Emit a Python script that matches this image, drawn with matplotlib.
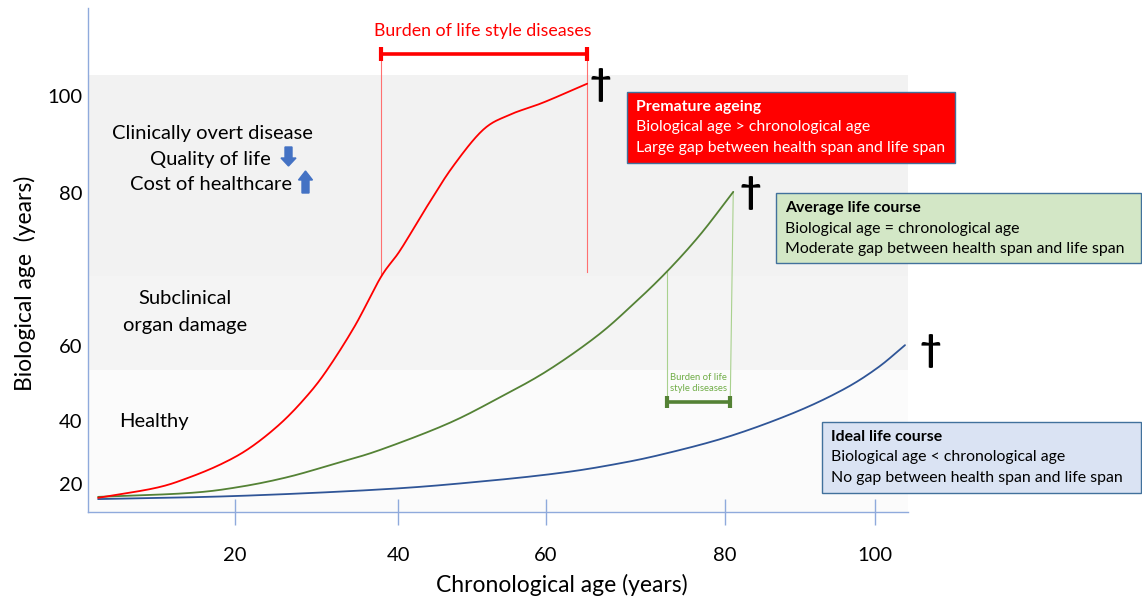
import numpy as np
import matplotlib
matplotlib.use("Agg")
import matplotlib.pyplot as plt
from matplotlib.patches import Rectangle, FancyArrow
from matplotlib.transforms import Affine2D

plt.rcParams['font.family'] = ['Lato', 'DejaVu Sans']

# axis labels as drawn (the schematic axes are not evenly spaced)
x_ticks = [20, 40, 60, 80, 100]
x_tick_labels = ['20', '40', '60', '80', '100']
y_ticks = [20, 40, 60, 80, 100]
y_tick_labels = ['20', '40', '60', '80', '100']

# curves: chronological age -> biological age
red_age = [3.2, 10.2, 14.2, 18.3, 21.8, 25.5, 28.6, 31.2, 34.7, 37.9, 40.3, 43.9, 47.4, 51.5, 55.1, 59.6, 64.6]
red_bio = [15.6, 18.7, 21.9, 26.3, 31.4, 39.0, 46.1, 53.3, 62.6, 69.0, 72.5, 78.2, 85.4, 93.0, 96.1, 98.6, 102.5]

green_age = [3.2, 14.2, 20.4, 26.5, 32.6, 37.8, 46.6, 53.4, 60.1, 65.7, 69.7, 73.5, 77.2, 81.1]
green_bio = [15.9, 17.1, 19.0, 22.2, 26.7, 30.8, 39.0, 45.9, 53.3, 61.3, 65.4, 69.7, 74.5, 80.2]

blue_age = [3.2, 20.4, 38.8, 52.2, 61.6, 67.2, 72.7, 80.3, 89.1, 95.7, 100.3, 104.0]
blue_bio = [15.2, 16.2, 18.4, 21.0, 23.5, 26.0, 29.2, 34.9, 42.1, 48.3, 54.1, 60.1]

# zone limits on the biological age axis
zone_names = ['Healthy', 'Subclinical', 'organ damage', 'Clinically overt disease']
zone_low = [11.1, 53.6, 69.2]
zone_high = [53.6, 69.2, 104.3]
zone_colors = ['#fbfbfb', '#f4f4f4', '#f2f2f2']

# burden of life style diseases (red: premature, green: average)
red_burden = (37.9, 64.6)
green_burden = (73.5, 80.7)

# piecewise scale anchors (value -> position) so the ticks sit where drawn
x_anchor_v = [-20, 0, 20, 40, 60, 80, 100, 120, 160]
x_anchor_p = [-91, 72, 235, 398, 546, 725, 875, 1025, 1325]
y_anchor_v = [-40, 0, 20, 40, 60, 80, 100, 120, 160]
y_anchor_p = [-673, -547, -484, -421, -346, -193, -96, 1, 195]


def xf(v):
    return np.interp(v, x_anchor_v, x_anchor_p)


def xi(p):
    return np.interp(p, x_anchor_p, x_anchor_v)


def yf(v):
    return np.interp(v, y_anchor_v, y_anchor_p)


def yi(p):
    return np.interp(p, y_anchor_p, y_anchor_v)


def smooth(xs, ys, n=16):
    # Catmull-Rom through the read points, done in screen space
    P = np.column_stack([xf(np.array(xs)), yf(np.array(ys))])
    P = np.vstack([2 * P[0] - P[1], P, 2 * P[-1] - P[-2]])
    out = []
    for i in range(1, len(P) - 2):
        p0, p1, p2, p3 = P[i - 1], P[i], P[i + 1], P[i + 2]
        for t in np.linspace(0, 1, n, endpoint=False):
            t2, t3 = t * t, t * t * t
            pt = 0.5 * ((2 * p1) + (-p0 + p2) * t + (2 * p0 - 5 * p1 + 4 * p2 - p3) * t2
                        + (-p0 + 3 * p1 - 3 * p2 + p3) * t3)
            out.append(pt)
    out.append(P[-2])
    out = np.array(out)
    return xi(out[:, 0]), yi(out[:, 1])


W, H = 1142, 601
fig = plt.figure(figsize=(W / 100, H / 100), dpi=100)
ax = fig.add_axes([88 / W, 1 - 512 / H, 820 / W, 504 / H])
ax.set_xscale('function', functions=(xf, xi))
ax.set_yscale('function', functions=(yf, yi))
ax.set_xlim(1.96, 104.4)
ax.set_ylim(11.1, 118.1)

# pixel transform for the free annotations
px = Affine2D().scale(1 / W, -1 / H).translate(0, 1) + fig.transFigure

axis_blue = '#8faadc'
for s in ['top', 'right']:
    ax.spines[s].set_visible(False)
for s in ['left', 'bottom']:
    ax.spines[s].set_color(axis_blue)
    ax.spines[s].set_linewidth(1.0)

ax.set_xticks(x_ticks, x_tick_labels)
ax.set_yticks(y_ticks, y_tick_labels)
ax.minorticks_off()
ax.tick_params(axis='x', direction='inout', length=19, width=1, color=axis_blue,
               pad=16, labelsize=14.5)
ax.tick_params(axis='y', length=0, pad=4, labelsize=14.5)

ax.set_xlabel('Chronological age (years)', fontsize=16.5)
ax.xaxis.set_label_coords((562 - 88) / 820, (512 - 574) / 504)
ax.set_ylabel('Biological age  (years)', fontsize=16.5)
ax.yaxis.set_label_coords((36 - 88) / 820, (512 - 283) / 504)

# zones
for lo, hi, c in zip(zone_low, zone_high, zone_colors):
    ax.axhspan(lo, hi, color=c, zorder=0, lw=0)

# curves
for xs, ys, col in [(blue_age, blue_bio, '#2f5597'),
                    (green_age, green_bio, '#548235'),
                    (red_age, red_bio, '#ff0000')]:
    sx, sy = smooth(xs, ys)
    ax.plot(sx, sy, color=col, lw=1.3, zorder=3, solid_capstyle='round')

# red burden bar
bar_y = 108.7
ax.plot([red_burden[0], red_burden[0]], [bar_y, 69.2], color='#ff7070', lw=0.8, clip_on=False)
ax.plot([red_burden[1], red_burden[1]], [bar_y, 69.7], color='#ff7070', lw=0.8, clip_on=False)
ax.plot(red_burden, [bar_y, bar_y], color='#ff0000', lw=2.6, clip_on=False, zorder=4)
ax.plot(red_burden, [bar_y, bar_y], ls='none', marker='|', ms=10, mew=3, color='#ff0000',
        clip_on=False, zorder=4)
ax.text(483, 31, 'Burden of life style diseases', transform=px, color='#ff0000',
        fontsize=12.8, ha='center', va='center')

# green burden bar
gbar_y = 45.1
ax.plot([green_burden[0], green_burden[0]], [gbar_y, green_bio[11]], color='#a9d18e', lw=0.8)
ax.plot([green_burden[1], green_age[-1]], [gbar_y, green_bio[-1]], color='#a9d18e', lw=0.8)
ax.plot(green_burden, [gbar_y, gbar_y], color='#548235', lw=2.6, zorder=4)
ax.plot(green_burden, [gbar_y, gbar_y], ls='none', marker='|', ms=9, mew=3, color='#548235', zorder=4)
ax.text(698, 383, 'Burden of life\nstyle diseases', transform=px, color='#70ad47',
        fontsize=6.8, ha='center', va='center', linespacing=1.3)

# death crosses
for xs, ys, dx, dy in [(red_age, red_bio, 13, -1), (green_age, green_bio, 17, -1),
                       (blue_age, blue_bio, 25, -6)]:
    ax.annotate('\u2020', (xs[-1], ys[-1]), xytext=(dx * 0.72, dy * 0.72),
                textcoords='offset points', fontsize=27, fontweight='bold',
                ha='center', va='center', annotation_clip=False)

# zone labels
ax.text(212, 133, zone_names[3], transform=px, fontsize=14.5, ha='center', va='center')
ax.text(271, 160, 'Quality of life', transform=px, fontsize=14.5, ha='right', va='center')
ax.text(292, 185, 'Cost of healthcare', transform=px, fontsize=14.5, ha='right', va='center')
ax.text(185, 298, zone_names[1], transform=px, fontsize=14.5, ha='center', va='center')
ax.text(185, 325, zone_names[2], transform=px, fontsize=14.5, ha='center', va='center')
ax.text(154, 421, zone_names[0], transform=px, fontsize=14.5, ha='center', va='center')

arrow_blue = '#4472c4'
ax.add_patch(FancyArrow(288.5, 147, 0, 19, width=7, head_width=15, head_length=8,
                        length_includes_head=True, transform=px, color=arrow_blue, clip_on=False))
ax.add_patch(FancyArrow(305.5, 193, 0, -22, width=7, head_width=14, head_length=9,
                        length_includes_head=True, transform=px, color=arrow_blue, clip_on=False))

# legend boxes
boxes = [
    ((627, 92, 328, 71), '#ff0000', 'white',
     ['Premature ageing', 'Biological age > chronological age',
      'Large gap between health span and life span']),
    ((776, 193, 365, 70), '#d3e7c6', 'black',
     ['Average life course', 'Biological age = chronological age',
      'Moderate gap between health span and life span']),
    ((822, 422, 319, 71), '#dae3f3', 'black',
     ['Ideal life course', 'Biological age < chronological age',
      'No gap between health span and life span']),
]
for (bx, by, bw, bh), fc, tc, lines in boxes:
    ax.add_patch(Rectangle((bx, by), bw, bh, transform=px, facecolor=fc,
                           edgecolor='#41719c', lw=1.0, clip_on=False, zorder=5))
    for k, line in enumerate(lines):
        ax.text(bx + 9, by + 15 + 20.5 * k, line, transform=px, color=tc, fontsize=11.4,
                fontweight='bold' if k == 0 else 'normal', va='center', ha='left', zorder=6)

fig.savefig('out.png', dpi=100)
